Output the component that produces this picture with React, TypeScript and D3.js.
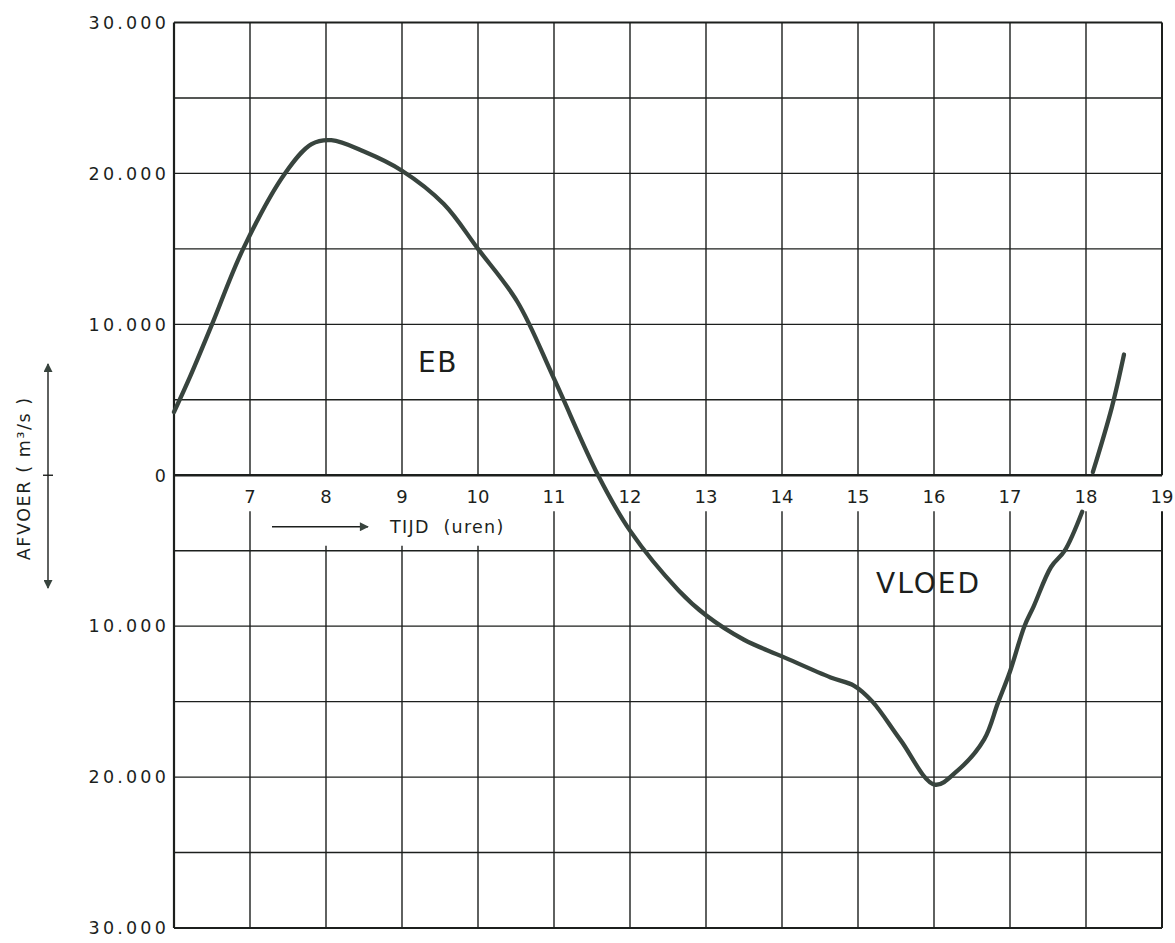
import * as d3 from 'd3';
import React, { useRef, useEffect } from 'react';

// hours (TIJD) and discharge (AFVOER, m3/s)
const hours = [6.0, 6.21, 6.5, 6.91, 7.46, 7.81, 8.07, 8.5, 9.0, 9.55, 10.0, 10.52, 11.0, 11.58, 12.0, 12.64, 13.0, 13.5, 14.0, 14.64, 14.95, 15.19, 15.56, 16.01, 16.31, 16.66, 16.84, 17.0, 17.19, 17.31, 17.54, 17.72, 17.95]
const discharge = [4190, 6520, 10000, 15000, 20000, 21940, 22200, 21450, 20180, 17970, 15000, 11480, 6400, 0, -3670, -7630, -9280, -10900, -12000, -13400, -13950, -15000, -17550, -20500, -19570, -17500, -15100, -13000, -10000, -8700, -6080, -5000, -2420]

// short piece after the gap at the label band
const lateHours = [18.09, 18.34, 18.5]
const lateDischarge = [200, 4500, 8000]

const hourTicks = [7, 8, 9, 10, 11, 12, 13, 14, 15, 16, 17, 18, 19]
const gridValues = [-25000, -20000, -15000, -10000, -5000, 5000, 10000, 15000, 20000, 25000]
const yLabelValues = [30000, 20000, 10000, 0, -10000, -20000, -30000]
const yLabels = ["30.000", "20.000", "10.000", "0", "10.000", "20.000", "30.000"]

const width = 1175
const height = 943
const ink = "#1c1f1d"
const curveColor = "#38443e"
const font = "'DejaVu Sans', sans-serif"

function App() {
  const ref = useRef(null);

  useEffect(() => {
    const svg = d3.select(ref.current)
    svg.selectAll('*').remove()
    draw()
  })

  const draw = () => {
    const svg = d3.select(ref.current)

    var x = d3.scaleLinear().domain([6, 19]).range([174, 1162])
    var y = d3.scaleLinear().domain([-30000, 30000]).range([928, 22.5])

    svg.append("rect").attr("width", width).attr("height", height).attr("fill", "#fff")

    const grid = svg.append("g").attr("stroke", ink).attr("fill", "none")

    // horizontal grid
    grid.selectAll("line.h")
      .data(gridValues)
      .enter()
      .append("line")
      .attr("x1", x(6)).attr("x2", x(19))
      .attr("y1", d => y(d)).attr("y2", d => y(d))
      .attr("stroke-width", 1.4)

    // vertical grid, broken at the hour label band
    const gapEnd = (h) => (h >= 8 && h <= 10 ? y(-5000) - 5 : y(0) + 36)
    grid.selectAll("line.vt")
      .data(hourTicks)
      .enter()
      .append("line")
      .attr("x1", d => x(d)).attr("x2", d => x(d))
      .attr("y1", y(30000)).attr("y2", y(0))
      .attr("stroke-width", d => (d === 19 ? 2 : 1.4))
    grid.selectAll("line.vb")
      .data(hourTicks)
      .enter()
      .append("line")
      .attr("x1", d => x(d)).attr("x2", d => x(d))
      .attr("y1", d => gapEnd(d)).attr("y2", y(-30000))
      .attr("stroke-width", d => (d === 19 ? 2 : 1.4))

    // frame
    grid.append("line").attr("x1", x(6)).attr("x2", x(6)).attr("y1", y(30000)).attr("y2", y(-30000)).attr("stroke-width", 2.2)
    grid.append("line").attr("x1", x(6)).attr("x2", x(19)).attr("y1", y(30000)).attr("y2", y(30000)).attr("stroke-width", 2)
    grid.append("line").attr("x1", x(6)).attr("x2", x(19)).attr("y1", y(-30000)).attr("y2", y(-30000)).attr("stroke-width", 2)
    grid.append("line").attr("x1", x(6)).attr("x2", x(19)).attr("y1", y(0)).attr("y2", y(0)).attr("stroke-width", 2.6)

    // y labels
    svg.append("g")
      .selectAll("text")
      .data(yLabelValues)
      .enter()
      .append("text")
      .attr("x", x(6) - 5)
      .attr("y", d => y(d))
      .attr("dy", "0.36em")
      .attr("text-anchor", "end")
      .attr("font-family", font)
      .attr("font-size", 17.5)
      .attr("letter-spacing", 3.2)
      .attr("fill", ink)
      .text((d, i) => yLabels[i])

    // hour labels
    svg.append("g")
      .selectAll("text")
      .data(hourTicks)
      .enter()
      .append("text")
      .attr("x", d => x(d))
      .attr("y", y(0) + 28)
      .attr("text-anchor", "middle")
      .attr("font-family", font)
      .attr("font-size", 18)
      .attr("fill", ink)
      .text(d => d)

    // curve
    const line = d3.line()
      .x(d => x(d[0]))
      .y(d => y(d[1]))
      .curve(d3.curveCatmullRom.alpha(0.5))

    svg.append("path")
      .datum(hours.map((h, i) => [h, discharge[i]]))
      .attr("d", line)
      .attr("fill", "none")
      .attr("stroke", curveColor)
      .attr("stroke-width", 4.3)
      .attr("stroke-linecap", "round")
      .attr("stroke-linejoin", "round")

    svg.append("path")
      .datum(lateHours.map((h, i) => [h, lateDischarge[i]]))
      .attr("d", line)
      .attr("fill", "none")
      .attr("stroke", curveColor)
      .attr("stroke-width", 4.3)
      .attr("stroke-linecap", "round")

    // arrowheads
    const defs = svg.append("defs")
    defs.append("marker")
      .attr("id", "head")
      .attr("viewBox", "0 0 10 10")
      .attr("refX", 9).attr("refY", 5)
      .attr("markerWidth", 13).attr("markerHeight", 9)
      .attr("markerUnits", "userSpaceOnUse")
      .attr("orient", "auto-start-reverse")
      .append("path")
      .attr("d", "M0,0 L10,5 L0,10 Z")
      .attr("fill", curveColor)

    // x title with arrow
    svg.append("line")
      .attr("x1", 272).attr("x2", 368)
      .attr("y1", y(0) + 51.5).attr("y2", y(0) + 51.5)
      .attr("stroke", ink).attr("stroke-width", 1.4)
      .attr("marker-end", "url(#head)")
    svg.append("text")
      .attr("x", 390).attr("y", y(0) + 58)
      .attr("font-family", font)
      .attr("font-size", 17.5)
      .attr("letter-spacing", 1.3)
      .attr("fill", ink)
      .attr("xml:space", "preserve")
      .text("TIJD  (uren)")

    // y title with double arrow
    svg.append("line")
      .attr("x1", 48).attr("x2", 48)
      .attr("y1", 588).attr("y2", 364)
      .attr("stroke", ink).attr("stroke-width", 1.4)
      .attr("marker-start", "url(#head)")
      .attr("marker-end", "url(#head)")
    svg.append("line")
      .attr("x1", 43).attr("x2", 53)
      .attr("y1", y(0)).attr("y2", y(0))
      .attr("stroke", ink).attr("stroke-width", 1.4)
    svg.append("text")
      .attr("transform", `translate(30,${y(0) + 3}) rotate(-90)`)
      .attr("text-anchor", "middle")
      .attr("font-family", font)
      .attr("font-size", 17.5)
      .attr("letter-spacing", 1.6)
      .attr("fill", ink)
      .attr("xml:space", "preserve")
      .text("AFVOER ( m³/s )")

    // region labels
    svg.append("text")
      .attr("x", 418).attr("y", y(0) - 103)
      .attr("font-family", font)
      .attr("font-size", 28)
      .attr("letter-spacing", 1.5)
      .attr("fill", ink)
      .text("EB")
    svg.append("text")
      .attr("x", 876).attr("y", y(0) + 118)
      .attr("font-family", font)
      .attr("font-size", 28)
      .attr("letter-spacing", 2)
      .attr("fill", ink)
      .text("VLOED")
  }

  return (
    <svg ref={ref} width={width} height={height} style={{ position: 'absolute', left: 0, top: 0 }}>
    </svg>
  )
}

export default App;
